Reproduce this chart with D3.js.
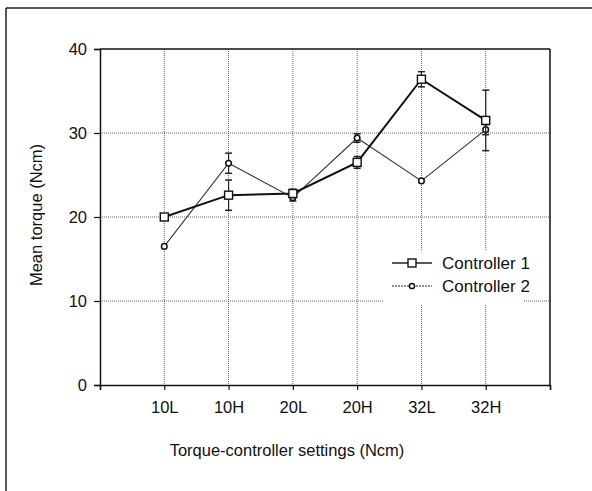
<!DOCTYPE html>
<html>
<head>
<meta charset="utf-8">
<script src="https://cdn.jsdelivr.net/npm/d3@7"></script>
<style>
  body { margin: 0; background: #fff; }
  svg { font-family: "Liberation Sans", Arial, sans-serif; }
</style>
</head>
<body>
<svg id="chart" width="592" height="491"></svg>
<script>
const settings = ["10L", "10H", "20L", "20H", "32L", "32H"];
const controller1 = [20.0, 22.6, 22.8, 26.5, 36.4, 31.5];
const controller1Err = [0, 1.8, 0.5, 0.7, 0.9, 3.6];
const controller2 = [16.5, 26.4, 22.3, 29.4, 24.3, 30.4];
const controller2Err = [0, 1.2, 0.4, 0.5, 0, 0.6];
const yTicks = [0, 10, 20, 30, 40];

const SVG = d3.select("#chart");
const MARGIN = { top: 49, left: 100, right: 42, bottom: 106 };
const WIDTH = 592, HEIGHT = 491;

const xScale = d3.scaleLinear().domain([0, settings.length + 1]).range([MARGIN.left, WIDTH - MARGIN.right]);
const yScale = d3.scaleLinear().domain([0, 40]).range([HEIGHT - MARGIN.bottom, MARGIN.top]);

// outer frame (clipped at bottom/right)
SVG.append("line").attr("x1", 6).attr("y1", 8).attr("x2", WIDTH).attr("y2", 8)
  .attr("stroke", "#222").attr("stroke-width", 1.5);
SVG.append("line").attr("x1", 6).attr("y1", 8).attr("x2", 6).attr("y2", HEIGHT)
  .attr("stroke", "#222").attr("stroke-width", 1.5);

// gridlines
const grid = SVG.append("g").attr("id", "grid");
grid.selectAll("line.h")
  .data(yTicks.slice(1, -1))
  .join("line")
  .attr("class", "h")
  .attr("x1", xScale(0)).attr("x2", xScale(settings.length + 1))
  .attr("y1", (d) => yScale(d)).attr("y2", (d) => yScale(d))
  .attr("stroke", "#666").attr("stroke-width", 1).attr("stroke-dasharray", "1,1");
grid.selectAll("line.v")
  .data(settings)
  .join("line")
  .attr("class", "v")
  .attr("x1", (d, i) => xScale(i + 1)).attr("x2", (d, i) => xScale(i + 1))
  .attr("y1", yScale(40)).attr("y2", yScale(0))
  .attr("stroke", "#666").attr("stroke-width", 1).attr("stroke-dasharray", "1,1");

// plot frame top + right
SVG.append("line").attr("x1", xScale(0)).attr("x2", xScale(7)).attr("y1", yScale(40)).attr("y2", yScale(40))
  .attr("stroke", "#111").attr("stroke-width", 1.5);
SVG.append("line").attr("x1", xScale(7)).attr("x2", xScale(7)).attr("y1", yScale(40)).attr("y2", yScale(0))
  .attr("stroke", "#111").attr("stroke-width", 1.5);

// axes
const yAxis = SVG.append("g")
  .attr("transform", "translate(" + xScale(0) + ",0)")
  .call(d3.axisLeft(yScale).tickValues(yTicks).tickSize(6).tickPadding(7));
const xAxis = SVG.append("g")
  .attr("transform", "translate(0," + yScale(0) + ")")
  .call(d3.axisBottom(xScale).tickValues(d3.range(0, settings.length + 2)).tickSize(5).tickFormat(""));
xAxis.selectAll(".tick")
  .filter((d) => d >= 1 && d <= settings.length)
  .append("text")
  .attr("y", 28)
  .attr("fill", "#111")
  .attr("text-anchor", "middle")
  .style("font-size", "16.5px")
  .text((d) => settings[d - 1]);
[yAxis, xAxis].forEach((a) => {
  a.select(".domain").attr("stroke", "#111").attr("stroke-width", 1.5);
  a.selectAll(".tick line").attr("stroke", "#111").attr("stroke-width", 1.2);
});
yAxis.selectAll("text").style("font-size", "16.5px").attr("fill", "#111");

// labels
SVG.append("text")
  .attr("text-anchor", "middle")
  .attr("x", 287).attr("y", 456)
  .style("font-size", "16.5px").attr("fill", "#111")
  .text("Torque-controller settings (Ncm)");
SVG.append("text")
  .attr("text-anchor", "middle")
  .attr("transform", "translate(42,215) rotate(-90)")
  .style("font-size", "16.5px").attr("fill", "#111")
  .text("Mean torque (Ncm)");

// legend background
SVG.append("rect").attr("x", 383).attr("y", 250).attr("width", 140).attr("height", 55).attr("fill", "#fff");

const drawSeries = (values, errs, opts) => {
  const g = SVG.append("g");
  g.append("path")
    .datum(values)
    .attr("d", d3.line().x((d, i) => xScale(i + 1)).y((d) => yScale(d)))
    .attr("fill", "none")
    .attr("stroke", opts.color)
    .attr("stroke-width", opts.width);
  const eb = g.selectAll("g.err")
    .data(values.map((v, i) => ({ v: v, e: errs[i], i: i })).filter((d) => d.e > 0))
    .join("g");
  eb.append("line")
    .attr("x1", (d) => xScale(d.i + 1)).attr("x2", (d) => xScale(d.i + 1))
    .attr("y1", (d) => yScale(d.v - d.e)).attr("y2", (d) => yScale(d.v + d.e))
    .attr("stroke", "#222").attr("stroke-width", 1.2);
  [-1, 1].forEach((s) => {
    eb.append("line")
      .attr("x1", (d) => xScale(d.i + 1) - 3.5).attr("x2", (d) => xScale(d.i + 1) + 3.5)
      .attr("y1", (d) => yScale(d.v + s * d.e)).attr("y2", (d) => yScale(d.v + s * d.e))
      .attr("stroke", "#222").attr("stroke-width", 1.5);
  });
  if (opts.marker === "square") {
    g.selectAll("rect").data(values).join("rect")
      .attr("x", (d, i) => xScale(i + 1) - 4).attr("y", (d) => yScale(d) - 4)
      .attr("width", 8).attr("height", 8)
      .attr("fill", "#fff").attr("stroke", "#111").attr("stroke-width", 1.4);
  } else {
    g.selectAll("circle").data(values).join("circle")
      .attr("cx", (d, i) => xScale(i + 1)).attr("cy", (d) => yScale(d))
      .attr("r", 2.8)
      .attr("fill", "#fff").attr("stroke", "#111").attr("stroke-width", 1.5);
  }
};

drawSeries(controller2, controller2Err, { color: "#333", width: 1.1, marker: "circle" });
drawSeries(controller1, controller1Err, { color: "#111", width: 2, marker: "square" });

// legend
const legend = SVG.append("g").attr("transform", "translate(392,263)");
const legendItems = [
  { name: "Controller 1", width: 1.5, marker: "square", dash: null },
  { name: "Controller 2", width: 1, marker: "circle", dash: "2,1" }
];
legendItems.forEach((it, i) => {
  const row = legend.append("g").attr("transform", "translate(0," + i * 23 + ")");
  row.append("line").attr("x1", 0).attr("x2", 40).attr("y1", 0).attr("y2", 0)
    .attr("stroke", "#222").attr("stroke-width", it.width)
    .attr("stroke-dasharray", it.dash);
  if (it.marker === "square") {
    row.append("rect").attr("x", 16).attr("y", -4).attr("width", 8).attr("height", 8)
      .attr("fill", "#fff").attr("stroke", "#111").attr("stroke-width", 1.4);
  } else {
    row.append("circle").attr("cx", 20).attr("cy", 0).attr("r", 2.6)
      .attr("fill", "#fff").attr("stroke", "#111").attr("stroke-width", 1.5);
  }
  row.append("text").attr("x", 50).attr("y", 6)
    .style("font-size", "17px").attr("fill", "#111")
    .text(it.name);
});
</script>
</body>
</html>
